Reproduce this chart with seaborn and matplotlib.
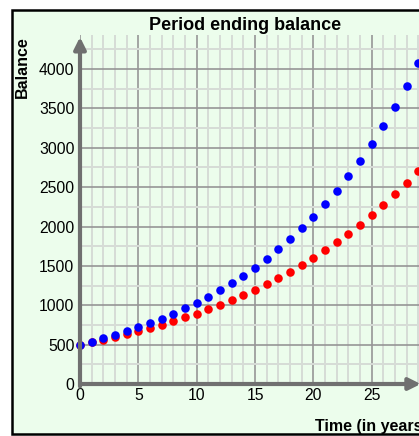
import matplotlib
matplotlib.use("Agg")
import matplotlib.pyplot as plt
import seaborn as sns
import pandas as pd
from matplotlib.patches import Rectangle
from matplotlib.ticker import MultipleLocator

years = list(range(30))
balance_blue = [500, 538, 578, 621, 668, 718, 772, 830, 892, 959,
                1030, 1108, 1191, 1280, 1376, 1479, 1590, 1710, 1838, 1976,
                2124, 2283, 2454, 2639, 2836, 3049, 3278, 3524, 3788, 4072]
balance_red = [500, 530, 562, 596, 631, 669, 709, 752, 797, 845,
               895, 949, 1006, 1066, 1131, 1198, 1270, 1346, 1427, 1513,
               1604, 1700, 1802, 1910, 2025, 2146, 2275, 2411, 2556, 2709]
x_ticks = [0, 5, 10, 15, 20, 25]
y_ticks = [0, 500, 1000, 1500, 2000, 2500, 3000, 3500, 4000]

sns.set_style("white")
plt.rcParams['font.family'] = ['Liberation Sans', 'DejaVu Sans']
plt.rcParams['text.color'] = 'black'
plt.rcParams['xtick.color'] = 'black'
plt.rcParams['ytick.color'] = 'black'

W, H = 419, 436
fig = plt.figure(figsize=(W / 100, H / 100), dpi=100)
fig.patch.set_facecolor("white")
bg = "#ecfdec"
frame = Rectangle((12 / W, 1 - 434 / H), 1.2, (434 - 10) / H, transform=fig.transFigure,
                  facecolor=bg, edgecolor="black", linewidth=1.8, zorder=-10)
fig.patches.append(frame)

ax = fig.add_axes([80 / W, 1 - 384 / H, 1 - 80 / W, (384 - 35) / H])
ax.set_facecolor(bg)
xmax, ymax = 29.05, 4432

ax.xaxis.set_major_locator(MultipleLocator(5))
ax.xaxis.set_minor_locator(MultipleLocator(1))
ax.yaxis.set_major_locator(MultipleLocator(500))
ax.yaxis.set_minor_locator(MultipleLocator(250))
ax.grid(which="minor", color="#d6dcd6", linewidth=1.4)
ax.grid(which="major", color="#969696", linewidth=1.2)
ax.set_axisbelow(True)
for s in ax.spines.values():
    s.set_visible(False)

df_red = pd.DataFrame({"t": years, "v": balance_red})
df_blue = pd.DataFrame({"t": years, "v": balance_blue})
sns.scatterplot(data=df_red, x="t", y="v", color="#ff0000", s=38, linewidth=0, ax=ax, zorder=3, clip_on=False)
sns.scatterplot(data=df_blue, x="t", y="v", color="#0000ff", s=38, linewidth=0, ax=ax, zorder=4, clip_on=False)

ax.set_xlim(0, xmax)
ax.set_ylim(0, ymax)
ax.set_xticks(x_ticks)
ax.set_yticks(y_ticks)
ax.set_xticklabels([str(v) for v in x_ticks], fontsize=11.3)
ax.set_yticklabels([str(v) for v in y_ticks], fontsize=11.3)
ax.tick_params(axis="both", length=0, pad=4)
ax.tick_params(axis="x", pad=3)
ax.set_xlabel("")
ax.set_ylabel("")

axis_col = "#707070"
ax.annotate("", xy=(29.2, 0), xytext=(0, 0),
            arrowprops=dict(arrowstyle="-|>,head_length=0.7,head_width=0.35", color=axis_col, lw=3,
                            shrinkA=0, shrinkB=0),
            annotation_clip=False, zorder=5)
ax.annotate("", xy=(0, 4406), xytext=(0, -30),
            arrowprops=dict(arrowstyle="-|>,head_length=0.7,head_width=0.35", color=axis_col, lw=3,
                            shrinkA=0, shrinkB=0),
            annotation_clip=False, zorder=5)

fig.text(245 / W, 1 - 26 / H, "Period ending balance", ha="center", va="center",
         fontsize=13, fontweight="bold")
fig.text(22 / W, 1 - 67 / H, "Balance", ha="center", va="center", rotation=90,
         fontsize=11.5, fontweight="bold")
fig.text(315 / W, 1 - 426 / H, "Time (in years)", ha="left", va="center",
         fontsize=11.5, fontweight="bold")

fig.savefig("out.png", dpi=100)
